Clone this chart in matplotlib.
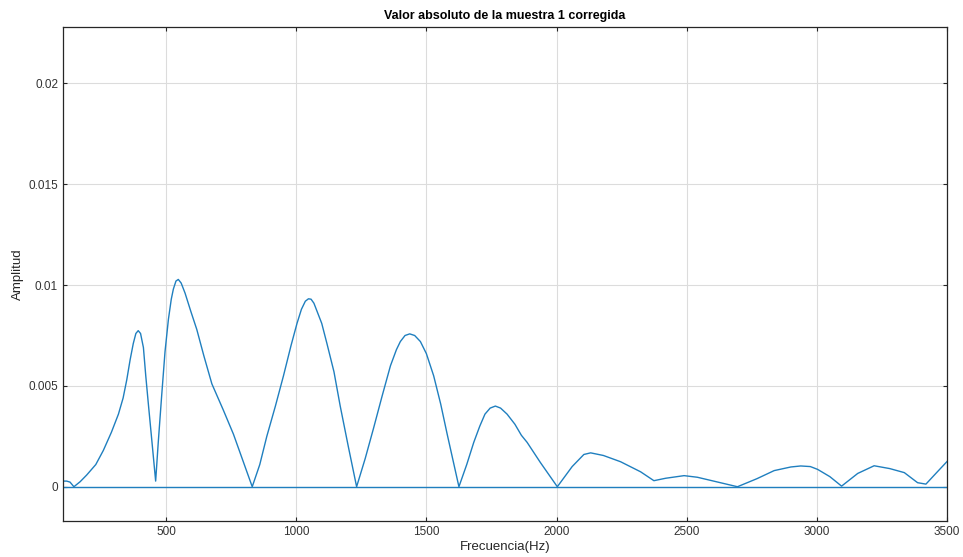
import matplotlib
matplotlib.use("Agg")
import matplotlib.pyplot as plt

plt.rcParams["font.family"] = ["Liberation Sans", "DejaVu Sans"]

# ── Data ──────────────────────────────────────────────────────────────────────
freq = [104, 118, 131, 146, 170, 195, 230, 259, 290, 317, 335, 349, 362, 374, 384, 393, 402, 413,
        422, 432, 446, 460,
        470, 483, 496, 509, 520, 528, 538, 547, 558, 573, 595, 618, 645, 676, 720, 759, 831,
        860, 887, 920, 951, 980, 1003, 1020, 1035, 1047, 1057, 1068, 1080, 1098, 1118, 1145, 1169, 1200, 1232,
        1265, 1297, 1330, 1362, 1385, 1400, 1418, 1436, 1455, 1477, 1500, 1528, 1555, 1580, 1625,
        1655, 1682, 1705, 1725, 1745, 1765, 1785, 1810, 1840, 1865, 1887, 1938, 2003,
        2060, 2105, 2131, 2180, 2246, 2323, 2374, 2419, 2490, 2541, 2695,
        2770, 2836, 2900, 2938, 2975, 3003, 3050, 3095,
        3157, 3220, 3280, 3336, 3387, 3419, 3460, 3500]
amp = [0.00028, 0.00028, 0.00023, 0.0, 0.00025, 0.00058, 0.0011, 0.0018, 0.0027, 0.0036, 0.0044, 0.0053, 0.0063,
       0.0071, 0.0076, 0.00774, 0.0076, 0.0069,
       0.0055, 0.0041, 0.0022, 0.00028,
       0.0022, 0.0045, 0.0067, 0.0083, 0.0093, 0.0098, 0.0102, 0.01028, 0.0101, 0.0096, 0.0087, 0.0078,
       0.0065, 0.0051, 0.0038, 0.0026, 0.0,
       0.0011, 0.0025, 0.0040, 0.0055, 0.0070, 0.0081, 0.0088, 0.0092, 0.00932, 0.0093, 0.0091, 0.0087,
       0.0081, 0.0071, 0.0057, 0.0040, 0.0020, 0.0,
       0.0014, 0.0029, 0.0045, 0.0060, 0.0068, 0.0072, 0.0075, 0.00758, 0.0075, 0.0072, 0.0066, 0.0055,
       0.0041, 0.0026, 0.0,
       0.0011, 0.0022, 0.0030, 0.0036, 0.0039, 0.0040, 0.0039, 0.0036, 0.0031, 0.00255, 0.0022, 0.0012, 0.0,
       0.0010, 0.00160, 0.00168, 0.00155, 0.00124, 0.00074, 0.0003, 0.00042, 0.00055, 0.00047, 0.0,
       0.0004, 0.0008, 0.00098, 0.00103, 0.00100, 0.00086, 0.0005, 0.00003,
       0.00066, 0.00104, 0.00090, 0.0007, 0.0002, 0.00013, 0.0007, 0.00125]
zero_freq = [104, 3500]
zero_amp = [0.0, 0.0]

xticks = [500, 1000, 1500, 2000, 2500, 3000, 3500]
yticks = [0, 0.005, 0.01, 0.015, 0.02]
ytick_labels = ["0", "0.005", "0.01", "0.015", "0.02"]

line_color = "#1f7fbf"

fig = plt.figure(figsize=(9.63, 5.57), dpi=100)
ax = fig.add_axes([0.0654, 0.0646, 0.918, 0.887])

ax.plot(freq, amp, color=line_color, linewidth=1.0)
ax.plot(zero_freq, zero_amp, color=line_color, linewidth=1.0)

ax.set_xlim(104, 3500)
ax.set_ylim(-0.0017, 0.0228)
ax.set_xticks(xticks)
ax.set_xticklabels([str(t) for t in xticks])
ax.set_yticks(yticks)
ax.set_yticklabels(ytick_labels)

ax.grid(True, color="#dcdcdc", linewidth=0.8)
ax.set_axisbelow(True)
ax.tick_params(direction="in", length=3, width=0.8, colors="#262626",
               labelsize=8.5, top=True, right=True, labelcolor="#333333")
for s in ax.spines.values():
    s.set_color("#262626")
    s.set_linewidth(0.9)

ax.set_title("Valor absoluto de la muestra 1 corregida", fontsize=9,
             fontweight="bold", pad=6)
ax.set_xlabel("Frecuencia(Hz)", fontsize=9.5, labelpad=2, color="#262626")
ax.set_ylabel("Amplitud", fontsize=9.5, labelpad=3, color="#262626")

plt.savefig("out.png", dpi=100, facecolor="white")
plt.close()
